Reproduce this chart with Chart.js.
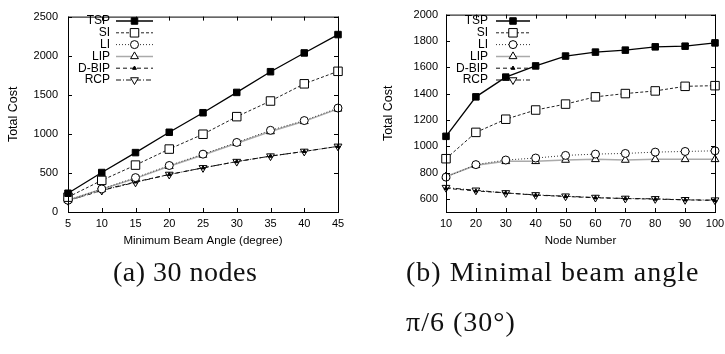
<!DOCTYPE html>
<html>
<head>
<meta charset="UTF-8">
<title>Total Cost</title>
<script src="https://cdn.jsdelivr.net/npm/chart.js"></script>
<style>
body{margin:0;background:#fff;width:725px;height:354px;position:relative;overflow:hidden}
.box{position:absolute;top:0;height:250px}
#boxA{left:0;width:360px}
#boxB{left:360px;width:385px}
.cap{position:absolute;font-family:"Liberation Serif","Times New Roman",serif;font-size:28px;letter-spacing:1px;color:#111;line-height:50px;white-space:nowrap}
#capA{left:113px;top:247px;letter-spacing:0.5px}
#capB{left:406px;top:247px}
</style>
</head>
<body>
<div class="box" id="boxA"><canvas id="chartA"></canvas></div>
<div class="box" id="boxB"><canvas id="chartB"></canvas></div>
<div class="cap" id="capA">(a) 30 nodes</div>
<div class="cap" id="capB">(b) Minimal beam angle<br>π/6 (30°)</div>
<script>
// names of the series
const seriesNames = ['TSP', 'SI', 'LI', 'LIP', 'D-BIP', 'RCP'];

// (a) 30 nodes, cost vs minimum beam angle
const angles = [5, 10, 15, 20, 25, 30, 35, 40, 45];
const angleTSP = [240, 505, 760, 1020, 1270, 1530, 1795, 2035, 2270];
const angleSI = [190, 405, 600, 805, 995, 1220, 1420, 1640, 1800];
const angleLI = [150, 295, 440, 595, 740, 890, 1045, 1170, 1330];
const angleLIP = [150, 290, 430, 585, 730, 880, 1030, 1160, 1320];
const angleDBIP = [145, 280, 385, 480, 565, 645, 715, 775, 840];
const angleRCP = [145, 275, 380, 480, 565, 645, 715, 775, 840];
const angleCostTicks = [0, 500, 1000, 1500, 2000, 2500];

// (b) beam angle pi/6, cost vs node number
const nodes = [10, 20, 30, 40, 50, 60, 70, 80, 90, 100];
const nodeTSP = [1075, 1375, 1525, 1610, 1685, 1715, 1730, 1755, 1760, 1785];
const nodeSI = [905, 1105, 1205, 1275, 1320, 1375, 1400, 1420, 1455, 1460];
const nodeLI = [765, 860, 895, 910, 930, 940, 945, 955, 960, 965];
const nodeLIP = [770, 855, 885, 885, 895, 900, 895, 900, 900, 900];
const nodeDBIP = [680, 660, 645, 628, 618, 608, 602, 598, 592, 588];
const nodeRCP = [685, 665, 645, 630, 620, 610, 603, 600, 593, 590];
const nodeCostTicks = [600, 800, 1000, 1200, 1400, 1600, 1800, 2000];

// gnuplot-like line/point styles
const styles = [
    {color: '#000', dash: [], width: 1.3, point: 'rect', radius: 4.6, fill: '#000', rot: 0},
    {color: '#222', dash: [3, 2], width: 1, point: 'rect', radius: 6, fill: '#fff', rot: 0},
    {color: '#333', dash: [1, 2], width: 1, point: 'circle', radius: 4, fill: '#fff', rot: 0},
    {color: '#aaa', dash: [], width: 1.5, point: 'triangle', radius: 4.5, fill: '#fff', rot: 0},
    {color: '#111', dash: [4, 3], width: 1, point: 'triangle', radius: 2.2, fill: '#000', rot: 0},
    {color: '#111', dash: [5, 2, 1, 2], width: 1, point: 'triangle', radius: 4.5, fill: '#fff', rot: 180}
];

const FONT = '"Liberation Sans", Arial, sans-serif';

function marker(ctx, st, x, y) {
    const r = st.radius;
    ctx.beginPath();
    if (st.point === 'rect') {
        const s = Math.SQRT1_2 * r;
        ctx.rect(x - s, y - s, 2 * s, 2 * s);
    } else if (st.point === 'circle') {
        ctx.arc(x, y, r, 0, Math.PI * 2);
    } else {
        let a = st.rot * Math.PI / 180;
        ctx.moveTo(x + Math.sin(a) * r, y - Math.cos(a) * r);
        a += Math.PI * 2 / 3;
        ctx.lineTo(x + Math.sin(a) * r, y - Math.cos(a) * r);
        a += Math.PI * 2 / 3;
        ctx.lineTo(x + Math.sin(a) * r, y - Math.cos(a) * r);
        ctx.closePath();
    }
    ctx.fillStyle = st.fill;
    ctx.fill();
    ctx.strokeStyle = '#000';
    ctx.lineWidth = 1;
    ctx.setLineDash([]);
    ctx.stroke();
}

// border with inward ticks on all four sides
const framePlugin = {
    id: 'frame',
    afterDatasetsDraw(chart) {
        const ctx = chart.ctx, a = chart.chartArea;
        const xs = chart.scales.x, ys = chart.scales.y;
        ctx.save();
        ctx.strokeStyle = '#000';
        ctx.lineWidth = 1;
        ctx.setLineDash([]);
        ctx.strokeRect(a.left + 0.5, a.top + 0.5, a.right - a.left, a.bottom - a.top);
        ctx.beginPath();
        xs.ticks.forEach(t => {
            const px = Math.round(xs.getPixelForValue(t.value)) + 0.5;
            ctx.moveTo(px, a.bottom); ctx.lineTo(px, a.bottom - 4);
            ctx.moveTo(px, a.top); ctx.lineTo(px, a.top + 4);
        });
        ys.ticks.forEach(t => {
            const py = Math.round(ys.getPixelForValue(t.value)) + 0.5;
            ctx.moveTo(a.left, py); ctx.lineTo(a.left + 4, py);
            ctx.moveTo(a.right, py); ctx.lineTo(a.right - 4, py);
        });
        ctx.stroke();
        ctx.restore();
    }
};

// key drawn like gnuplot: label, then line sample with marker
const keyPlugin = {
    id: 'gkey',
    afterDraw(chart, args, opts) {
        const ctx = chart.ctx;
        ctx.save();
        ctx.font = '12px ' + FONT;
        ctx.textAlign = 'right';
        ctx.textBaseline = 'middle';
        chart.data.datasets.forEach((ds, i) => {
            const st = styles[i];
            const y = opts.top + i * 11.8;
            ctx.fillStyle = '#000';
            ctx.fillText(ds.label, opts.textRight, y);
            ctx.beginPath();
            ctx.strokeStyle = st.color;
            ctx.lineWidth = st.width;
            ctx.setLineDash(st.dash);
            ctx.moveTo(opts.x1, y);
            ctx.lineTo(opts.x2, y);
            ctx.stroke();
            marker(ctx, st, (opts.x1 + opts.x2) / 2, y);
        });
        ctx.restore();
    }
};

function makeChart(id, xs, series, xTitle, xMin, xMax, yMin, yMax, yTicks, yWidth, yLabelPad, yTitlePad, padRight, key) {
    const datasets = series.map((vals, i) => {
        const st = styles[i];
        return {
            label: seriesNames[i],
            data: xs.map((x, j) => ({x: x, y: vals[j]})),
            borderColor: st.color,
            borderWidth: st.width,
            borderDash: st.dash,
            pointStyle: st.point,
            pointRotation: st.rot,
            pointRadius: st.radius,
            pointBackgroundColor: st.fill,
            pointBorderColor: '#000',
            pointBorderWidth: 1,
            tension: 0,
            clip: false
        };
    });
    return new Chart(document.getElementById(id), {
        type: 'line',
        data: {datasets: datasets},
        options: {
            responsive: true,
            maintainAspectRatio: false,
            animation: false,
            events: [],
            layout: {padding: {top: 13, right: padRight, left: 0, bottom: 0}},
            plugins: {
                legend: {display: false},
                tooltip: {enabled: false},
                gkey: key
            },
            scales: {
                x: {
                    type: 'linear',
                    min: xMin,
                    max: xMax,
                    afterBuildTicks: s => { s.ticks = xs.map(v => ({value: v})); },
                    afterFit: s => { s.height = 38; },
                    grid: {display: false, drawTicks: false},
                    border: {display: false},
                    ticks: {color: '#000', font: {family: FONT, size: 11}, padding: 5, maxRotation: 0, autoSkip: false,
                        callback: v => String(v)},
                    title: {display: true, text: xTitle, color: '#000', font: {family: FONT, size: 11.5}, padding: {top: 0, bottom: 2}}
                },
                y: {
                    type: 'linear',
                    min: yMin,
                    max: yMax,
                    afterBuildTicks: s => { s.ticks = yTicks.map(v => ({value: v})); },
                    afterFit: s => { s.width = yWidth; },
                    grid: {display: false, drawTicks: false},
                    border: {display: false},
                    ticks: {color: '#000', font: {family: FONT, size: 11}, padding: yLabelPad,
                        callback: v => String(v)},
                    title: {display: true, text: 'Total Cost', color: '#000', font: {family: FONT, size: 12.5}, padding: {top: yTitlePad, bottom: 0}}
                }
            }
        },
        plugins: [framePlugin, keyPlugin]
    });
}

makeChart('chartA', angles,
    [angleTSP, angleSI, angleLI, angleLIP, angleDBIP, angleRCP],
    'Minimum Beam Angle (degree)', 5, 45, 0, 2500, angleCostTicks, 68, 10, 6, 22,
    {top: 21, textRight: 110, x1: 116, x2: 153});

makeChart('chartB', nodes,
    [nodeTSP, nodeSI, nodeLI, nodeLIP, nodeDBIP, nodeRCP],
    'Node Number', 10, 100, 500, 2000, nodeCostTicks, 86, 8, 21, 30,
    {top: 21, textRight: 128, x1: 136, x2: 170});
</script>
</body>
</html>
